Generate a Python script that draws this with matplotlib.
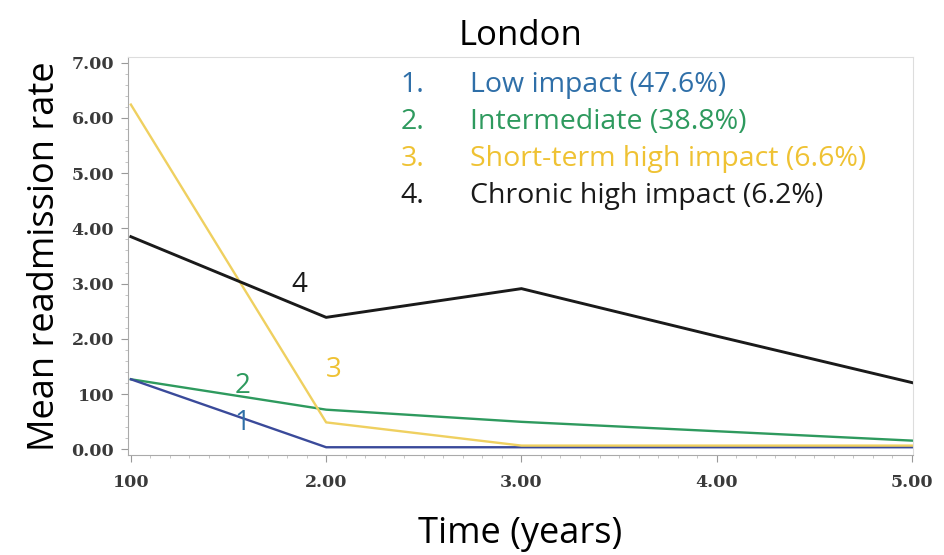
import matplotlib.pyplot as plt
import numpy as np
from matplotlib.ticker import MultipleLocator

time = [1, 2, 3, 4, 5]
low_impact = [1.27, 0.04, 0.04, 0.04, 0.04]
intermediate = [1.27, 0.72, 0.50, 0.33, 0.16]
short_term_high = [6.24, 0.49, 0.07, 0.07, 0.07]
chronic_high = [3.85, 2.39, 2.91, 2.05, 1.21]

x_ticks = [1, 2, 3, 4, 5]
x_tick_labels = ["100", "2.00", "3.00", "4.00", "5.00"]
y_ticks = [0, 1, 2, 3, 4, 5, 6, 7]
y_tick_labels = ["0.00", "100", "2.00", "3.00", "4.00", "5.00", "6.00", "7.00"]

legend_lines = [
    ("1.", "Low impact (47.6%)", "#2f6fa8"),
    ("2.", "Intermediate (38.8%)", "#2e9a5e"),
    ("3.", "Short-term high impact (6.6%)", "#efc233"),
    ("4.", "Chronic high impact (6.2%)", "#1a1a1a"),
]

fig = plt.figure(figsize=(9.45, 5.55), dpi=100)
ax = fig.add_axes([0.1354, 0.1802, 0.8307, 0.717])

ax.plot(time, intermediate, color="#2e9a5e", lw=1.7)
ax.plot(time, low_impact, color="#3a4a9a", lw=1.7)
ax.plot(time, short_term_high, color="#efd060", lw=1.7)
ax.plot(time, chronic_high, color="#1a1a1a", lw=2.1)

# curve numbers next to the lines
num_font = dict(fontsize=20, ha="center", va="center", family="Open Sans")
ax.text(1.86, 2.98, "4", color="#1a1a1a", **num_font)
ax.text(2.04, 1.43, "3", color="#efc233", **num_font)
ax.text(1.57, 1.15, "2", color="#2e9a5e", **num_font)
ax.text(1.57, 0.48, "1", color="#2f6fa8", **num_font)

for i, (num, label, col) in enumerate(legend_lines):
    y = 0.93 - i * 0.093
    ax.text(0.347, y, num, transform=ax.transAxes, fontsize=20.5, color=col,
            va="center", family="Open Sans")
    ax.text(0.436, y, label, transform=ax.transAxes, fontsize=20.5, color=col,
            va="center", family="Open Sans")

ax.set_xlim(0.985, 5.005)
ax.set_ylim(-0.1, 7.1)
ax.set_xticks(x_ticks)
ax.set_xticklabels(x_tick_labels)
ax.set_yticks(y_ticks)
ax.set_yticklabels(y_tick_labels)
ax.xaxis.set_minor_locator(MultipleLocator(0.1))
ax.yaxis.set_minor_locator(MultipleLocator(0.2))

for lab in ax.get_xticklabels() + ax.get_yticklabels():
    lab.set_family("DejaVu Serif")
    lab.set_fontweight("bold")
    lab.set_fontsize(12.5)
    lab.set_color("#3a3a3a")

ax.tick_params(which="major", length=5, color="#999999", pad=5)
ax.tick_params(which="minor", length=2.5, color="#bbbbbb")
ax.tick_params(axis="x", pad=9)

for side in ["left", "bottom"]:
    ax.spines[side].set_color("#aaaaaa")
for side in ["top", "right"]:
    ax.spines[side].set_color("#dddddd")

ax.set_title("London", fontsize=25, family="Open Sans", pad=9)
ax.set_ylabel("Mean readmission rate", fontsize=26, family="Open Sans", labelpad=6)
ax.set_xlabel("Time (years)", fontsize=26, family="Open Sans", labelpad=18)

fig.savefig("out.png", dpi=100)
